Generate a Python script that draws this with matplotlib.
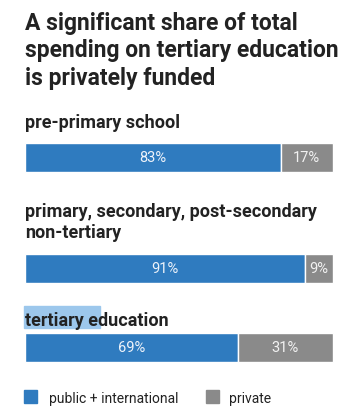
import matplotlib.pyplot as plt
from matplotlib.patches import Rectangle

# data
categories = ["pre-primary school",
              "primary, secondary, post-secondary\nnon-tertiary",
              "tertiary education"]
public_intl = [83, 91, 69]
private = [17, 9, 31]
series_names = ["public + international", "private"]
title = "A significant share of total\nspending on tertiary education\nis privately funded"

blue = "#2f7bbf"
grey = "#8a8a8a"
dark = "#222222"

W, H = 362, 410
fig = plt.figure(figsize=(W / 100, H / 100), dpi=100)
ax = fig.add_axes([0, 0, 1, 1])
# 0% at px 25, 100% at px 333
scale = 3.08
ax.set_xlim(-25 / scale, (W - 25) / scale)
ax.set_ylim(H, 0)
ax.axis("off")

bar_y = [158.5, 269, 348.5]
label_y = [128, 238, 326]  # baseline of last line
bh = 29

ax.barh(bar_y, public_intl, height=bh, color=blue, edgecolor="white", linewidth=1)
ax.barh(bar_y, private, left=public_intl, height=bh, color=grey, edgecolor="white", linewidth=1)

for i in range(len(categories)):
    ax.text(public_intl[i] / 2, bar_y[i], f"{public_intl[i]}%", ha="center", va="center",
            color="#eef3fa", fontsize=10.5, family="Roboto")
    ax.text(public_intl[i] + private[i] / 2, bar_y[i], f"{private[i]}%", ha="center", va="center",
            color="#f2f2f2", fontsize=10.5, family="Roboto")
    ax.text(0, label_y[i], categories[i], ha="left", va="baseline",
            color=dark, fontsize=13, fontweight="bold", family="Roboto", linespacing=1.2)

# selection highlight behind "tertiary ed"
ax.add_patch(Rectangle((-0.3, 307), 24.5, 22, color="#9cc7ec", zorder=0))

ax.text(0, 85, title, ha="left", va="baseline", color=dark, fontsize=16.5,
        fontweight="bold", family="Roboto", linespacing=1.25)

# legend
ax.add_patch(Rectangle((-0.3, 391), 13 / scale, 13, color=blue))
ax.text(24 / scale, 403, series_names[0], ha="left", va="baseline", color=dark,
        fontsize=10, family="Roboto")
ax.add_patch(Rectangle((181 / scale, 391), 13 / scale, 13, color=grey))
ax.text(204 / scale, 403, series_names[1], ha="left", va="baseline", color=dark,
        fontsize=10, family="Roboto")

fig.savefig("out.png", dpi=100, facecolor="white")
